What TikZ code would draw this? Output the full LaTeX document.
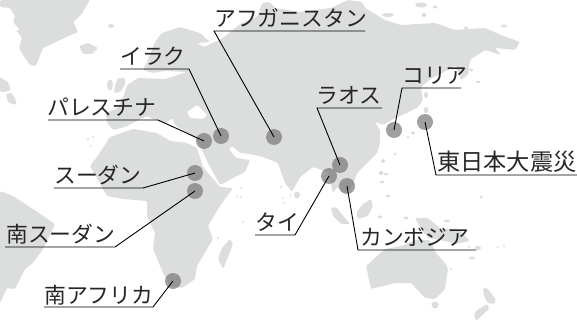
\documentclass[tikz,border=0pt]{standalone}
\usepackage{fontspec}
\newfontfamily\jpfont{Noto Sans CJK JP}
\definecolor{land}{HTML}{DCDEDE}
\definecolor{spot}{HTML}{777777}
\tikzset{
  landshape/.style={fill=land,draw=none,rounded corners=1.3pt},
  seashape/.style={fill=white,draw=none,rounded corners=1pt},
  spotnode/.style={circle,fill=spot,fill opacity=.7,draw=none,minimum size=16pt,inner sep=0pt},
  labelnode/.style={anchor=base west,inner sep=0pt,font=\jpfont\fontsize{21.8}{22}\selectfont,text=black!85},
  widelabel/.style={labelnode,font=\jpfont\fontsize{23.2}{23}\selectfont},
  leader/.style={draw=black,line width=.9pt,line join=miter}
}
\begin{document}
\begin{tikzpicture}[x=1pt,y=-1pt]
\useasboundingbox (0,0) rectangle (577,336);
% North America / Greenland
\fill[landshape] (0,0)--(0,7)--(10,8)--(15,16)--(13,22)--(20,30)--(16,30)--(22,38)--(19,48)--(25,58)--(30,65)--(36,66)--(43,48)--(60,40)--(78,32)--(75,25)--(73,22)--(82,14)--(85,8)--(90,0)--cycle;
\fill[landshape] (79,46)--(88,43)--(98,48)--(92,54)--(83,54)--cycle;
\fill[land] (111,26) ellipse (3 and 2);
\fill[landshape] (0,77)--(8,82)--(11,90)--(5,92)--(0,92)--cycle;
\fill[landshape] (6,94)--(12,93)--(17,103)--(14,105)--(8,102)--cycle;
% UK
\fill[landshape] (118,78)--(125,78)--(125,85)--(120,92)--(114,93)--(115,85)--cycle;
\fill[land] (110,85) ellipse (3 and 5.5);
% Eurasia
\fill[landshape] (107,123)--(106,113)--(118,108)--(124,95)--(127,85)--(138,78)--(165,79)--(187,72)--(165,71)--(152,73)--(143,70)--(148,60)--(155,42)--(162,33)--(180,27)--(200,33)--(210,42)--(197,43)--(204,47)--(223,38)--(240,24)--(258,16)--(262,3)--(270,2)--(275,8)--(300,12)--(331,8)--(348,0)--(362,2)--(365,8)--(385,20)--(401,25)--(435,23)--(455,30)--(485,28)--(501,35)--(520,42)--(515,50)--(495,48)--(501,55)--(485,50)--(470,60)--(468,75)--(461,80)--(455,65)--(448,70)--(432,78)--(421,87)--(423,100)--(418,107)--(407,113)--(397,117)--(383,125)--(375,122)--(380,130)--(380,143)--(377,153)--(367,163)--(357,173)--(352,187)--(343,193)--(337,187)--(333,193)--(328,172)--(313,167)--(300,177)--(292,192)--(285,183)--(278,163)--(263,157)--(250,154)--(240,153)--(232,146)--(229,149)--(236,158)--(250,160)--(245,172)--(233,178)--(220,185)--(208,163)--(202,150)--(197,140)--(185,132)--(175,125)--(172,118)--(165,124)--(155,120)--(147,116)--(135,122)--(125,127)--(113,130)--cycle;
% Black Sea
\fill[seashape] (187,112)--(197,105)--(207,115)--(203,119)--(190,118)--cycle;
% Africa
\fill[landshape] (90,166)--(97,157)--(110,137)--(133,129)--(157,133)--(170,141)--(187,143)--(197,148)--(203,167)--(220,187)--(233,188)--(220,206)--(208,226)--(213,239)--(203,256)--(197,266)--(195,279)--(182,288)--(170,286)--(163,273)--(153,249)--(155,233)--(147,216)--(147,201)--(123,199)--(107,196)--cycle;
% Madagascar
\fill[landshape] (230,239)--(233,244)--(223,269)--(218,259)--(222,248)--cycle;
% South America
\fill[landshape] (0,191)--(13,196)--(33,209)--(55,224)--(43,249)--(33,263)--(25,269)--(15,289)--(7,288)--(0,303)--cycle;
% Australia and Oceania
\fill[landshape] (366,266)--(385,249)--(401,246)--(415,240)--(430,240)--(436,253)--(445,263)--(448,269)--(445,289)--(435,299)--(425,298)--(411,283)--(395,283)--(371,289)--cycle;
\fill[landshape] (415,218)--(428,218)--(441,229)--(458,229)--(470,241)--(455,244)--(445,241)--(428,238)--(421,229)--cycle;
\fill[land] (435,305) circle (3.5);
\fill[landshape] (483,288)--(487,288)--(496,300)--(494,304)--(488,303)--(484,296)--cycle;
\fill[landshape] (488,304)--(489,309)--(476,321)--(474,313)--(480,308)--cycle;
% SE Asia
\fill[landshape] (331,208)--(336,207)--(350,224)--(341,224)--(333,216)--cycle;
\fill[landshape] (371,199)--(373,206)--(368,216)--(358,219)--(356,213)--(363,204)--cycle;
\fill[land] (297,195) ellipse (3 and 3.5);
% small islands
\foreach \ix/\iy/\ia/\ib in {380/217/2.5/1.5,406/218/2.5/1.5,447/221/3/1.5,478/248/3/2,472/258/3/1.5,388/196/2/1.5,381/173/2.5/2,382/182/2/1.5,481/197/1.5/1.5,421/5/6/2.5,435/7/2.5/1.5,424/15/2.5/2,388/15/6/2,504/26/3/1.5,466/28/2/1.2,478/82/2.5/1,471/70/2/1.5,426/95/2/3,426/110/2.5/3,413/133/2/1.5,408/137/1.5/1,383/161/2/2,395/154/1.5/1.5,386/174/2/1.5,469/247/1.5/1,498/247/1.2/1.2,504/246/1.2/1.2,451/269/1.2/1.2,88/139/1.2/1.2,93/137/1.2/1.2,91/146/1/1,241/197/1.2/1.2,241/188/1.2/1.2,243/222/1.2/1.2,218/238/1.2/1.2,237/197/1/1,281/187/1.2/1.2,283/198/1/1,284/203/1/1,358/169/1.5/1.5,368/205/1.2/1,290/195/1/1} {\fill[land] (\ix,\iy) ellipse (\ia pt and \ib pt);}
% spots
\node[spotnode] (afg) at (274,137) {};
\node[spotnode] (irq) at (221,136) {};
\node[spotnode] (pse) at (204,141) {};
\node[spotnode] (sdn) at (195,173) {};
\node[spotnode] (ssd) at (195,191) {};
\node[spotnode] (zaf) at (173,281) {};
\node[spotnode] (lao) at (340,165) {};
\node[spotnode] (tha) at (329,176) {};
\node[spotnode] (khm) at (347,186) {};
\node[spotnode] (kor) at (394,130) {};
\node[spotnode] (jpn) at (425,122) {};
% labels
\node[labelnode] (lafg) at (214,27) {アフガニスタン};
\node[labelnode] (lirq) at (120,65) {イラク};
\node[labelnode] (lpse) at (47,116) {パレスチナ};
\node[labelnode] (lsdn) at (54,184) {スーダン};
\node[labelnode] (lssd) at (6,243) {南スーダン};
\node[labelnode] (lzaf) at (44,303) {南アフリカ};
\node[labelnode] (llao) at (316,104) {ラオス};
\node[labelnode] (ltha) at (255,231) {タイ};
\node[labelnode] (lkhm) at (360,246) {カンボジア};
\node[labelnode] (lkor) at (402,84) {コリア};
\node[widelabel] (ljpn) at (437,171) {東日本大震災};
% connector ends
\coordinate (a1) at (214,31); \coordinate (a2) at (365,31);
\coordinate (b1) at (189,69); \coordinate (b2) at (120,69);
\coordinate (c1) at (158,120); \coordinate (c2) at (48,120);
\coordinate (d1) at (143,188); \coordinate (d2) at (54,188);
\coordinate (e1) at (115,247); \coordinate (e2) at (5,247);
\coordinate (f1) at (153,307); \coordinate (f2) at (44,307);
\coordinate (g1) at (317,108); \coordinate (g2) at (382,108);
\coordinate (h1) at (295,235); \coordinate (h2) at (255,235);
\coordinate (i1) at (358,250); \coordinate (i2) at (476,250);
\coordinate (j1) at (402,88); \coordinate (j2) at (461,88);
\coordinate (k1) at (436,175); \coordinate (k2) at (577,175);
% connectors
\draw[leader] (afg.center) -- (a1) -- (a2);
\draw[leader] (irq.center) -- (b1) -- (b2);
\draw[leader] (pse.center) -- (c1) -- (c2);
\draw[leader] (sdn.center) -- (d1) -- (d2);
\draw[leader] (ssd.center) -- (e1) -- (e2);
\draw[leader] (zaf.center) -- (f1) -- (f2);
\draw[leader] (lao.center) -- (g1) -- (g2);
\draw[leader] (tha.center) -- (h1) -- (h2);
\draw[leader] (khm.center) -- (i1) -- (i2);
\draw[leader] (kor.center) -- (j1) -- (j2);
\draw[leader] (jpn.center) -- (k1) -- (k2);
\end{tikzpicture}
\end{document}
